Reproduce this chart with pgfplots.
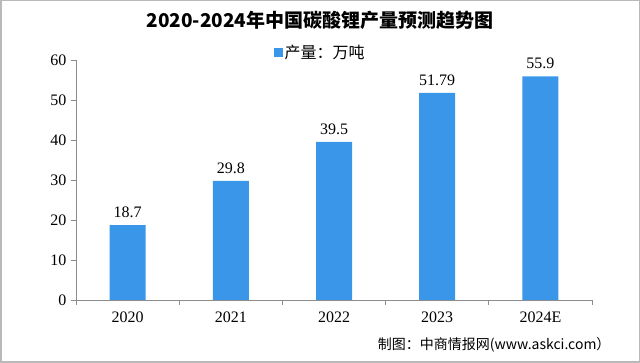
\documentclass[border=0pt]{standalone}
\usepackage{pgfplots}
\pgfplotsset{compat=1.18}
\usepackage{fontspec}
\setmainfont{Liberation Serif}
\newfontfamily\cjk{Noto Sans CJK SC}
\definecolor{barblue}{RGB}{58,150,232}
\definecolor{axgray}{RGB}{140,140,140}
\begin{document}
\begin{tikzpicture}[x=1pt,y=1pt]
\path[draw=gray!55, line width=1.5pt] (0.75,0.75) rectangle (639.25,362.25);
\begin{axis}[at={(76pt,63pt)}, anchor=south west, scale only axis,
  width=516pt, height=240pt,
  xmin=-0.5, xmax=4.5, ymin=0, ymax=60,
  ytick={0,10,...,60},
  xtick={-0.5,0.5,...,4.5}, xticklabels={},
  extra x ticks={0,1,2,3,4},
  extra x tick labels={2020,2021,2022,2023,2024E},
  extra x tick style={major tick length=0pt},
  axis x line*=bottom, axis y line*=left,
  axis line style={axgray, line width=0.8pt},
  tick style={axgray, line width=0.8pt},
  major tick length=5pt,
  tick align=outside,
  x tick label style={font=\fontsize{16}{18}\selectfont, yshift=-8pt},
  y tick label style={font=\fontsize{16}{18}\selectfont, xshift=-1pt},
  /pgf/number format/assume math mode=true,
  legend style={at={(0.473,1.03)}, anchor=center, draw=none, fill=none,
    font=\cjk\fontsize{16}{18}\selectfont},
  legend image code/.code={\fill[barblue] (0pt,-4.5pt) rectangle (9pt,4.5pt);},
  clip=false,
]
\addplot[ybar, bar width=36pt, fill=barblue, draw=none,
  point meta=explicit symbolic,
  nodes near coords,
  nodes near coords style={font=\fontsize{16}{18}\selectfont, yshift=4pt}]
  coordinates {(0,18.7)[18.7] (1,29.8)[29.8] (2,39.5)[39.5] (3,51.79)[51.79] (4,55.9)[55.9]};
\addlegendentry{产量：万吨}
\end{axis}
\node at (320,343) {\cjk\bfseries\fontsize{19}{22}\selectfont 2020-2024年中国碳酸锂产量预测趋势图};
\node[anchor=east] at (614,18) {\cjk\fontsize{14}{16}\selectfont 制图：中商情报网(www.askci.com）};
\end{tikzpicture}
\end{document}
